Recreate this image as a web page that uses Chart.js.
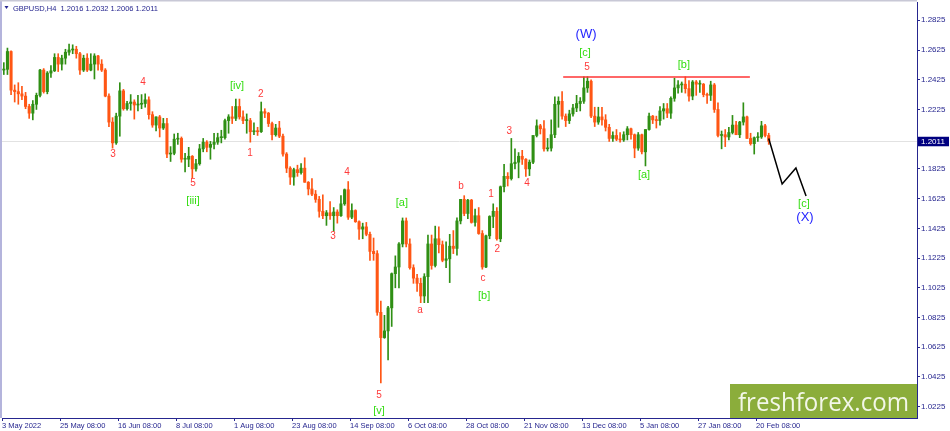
<!DOCTYPE html>
<html>
<head>
<meta charset="utf-8">
<title>GBPUSD,H4</title>
<script src="https://cdn.jsdelivr.net/npm/chart.js@4.4.1/dist/chart.umd.min.js"></script>
<style>
  html, body { margin: 0; padding: 0; background: #fff; }
  canvas { display: block; }
</style>
</head>
<body>
<canvas id="chart" width="950" height="431"></canvas>
<script>
// one candle per trading day, 3 May 2022 .. 23 Feb 2023
const opens = [
  1.2490,1.2495,1.2615,1.2355,1.2345,1.2330,1.2315,1.2245,1.2200,1.2260,
  1.2320,1.2490,1.2345,1.2470,1.2485,1.2575,1.2530,1.2570,1.2610,1.2625,
  1.2630,1.2600,1.2490,1.2570,1.2490,1.2530,1.2585,1.2530,1.2490,1.2315,
  1.2140,1.2000,1.2180,1.2350,1.2230,1.2265,1.2275,1.2255,1.2260,1.2265,
  1.2290,1.2190,1.2120,1.2175,1.2100,1.2130,1.1925,1.1930,1.2025,1.2030,
  1.1890,1.1890,1.1910,1.1825,1.1860,1.1960,1.2005,1.1970,1.1990,1.2005,
  1.2035,1.2035,1.2150,1.2175,1.2165,1.2245,1.2175,1.2150,1.2150,1.2075,
  1.2080,1.2075,1.2210,1.2200,1.2130,1.2055,1.2100,1.2045,1.1925,1.1830,
  1.1770,1.1820,1.1800,1.1830,1.1735,1.1690,1.1655,1.1620,1.1540,1.1510,
  1.1530,1.1510,1.1535,1.1510,1.1590,1.1685,1.1500,1.1545,1.1470,1.1420,
  1.1435,1.1385,1.1270,1.1255,1.0860,1.0690,1.0735,1.0890,1.1120,1.1165,
  1.1320,1.1475,1.1320,1.1160,1.1090,1.1055,1.0970,1.1100,1.1320,1.1175,
  1.1355,1.1315,1.1210,1.1220,1.1305,1.1290,1.1475,1.1620,1.1525,1.1615,
  1.1465,1.1510,1.1390,1.1165,1.1375,1.1505,1.1540,1.1355,1.1705,1.1775,
  1.1760,1.1860,1.1870,1.1910,1.1890,1.1825,1.1870,1.2050,1.2115,1.2095,
  1.1960,1.1965,1.2055,1.2260,1.2280,1.2180,1.2150,1.2195,1.2235,1.2265,
  1.2280,1.2370,1.2415,1.2180,1.2140,1.2175,1.2155,1.2105,1.2030,1.2050,
  1.2025,1.2020,1.2055,1.2095,1.2055,1.1965,1.2055,1.1940,1.2090,1.2180,
  1.2155,1.2150,1.2215,1.2230,1.2200,1.2300,1.2370,1.2390,1.2395,1.2365,
  1.2315,1.2410,1.2395,1.2395,1.2325,1.2320,1.2390,1.2225,1.2050,1.2055,
  1.2040,1.2070,1.2120,1.2055,1.2140,1.2175,1.2030,1.1995,1.2035,1.2040,
  1.2115,1.2050
];
const highs = [
  1.2540,1.2638,1.2620,1.2390,1.2405,1.2380,1.2340,1.2260,1.2285,1.2335,
  1.2495,1.2500,1.2480,1.2520,1.2600,1.2600,1.2590,1.2630,1.2665,1.2660,
  1.2650,1.2610,1.2590,1.2600,1.2600,1.2600,1.2590,1.2560,1.2500,1.2330,
  1.2170,1.2200,1.2405,1.2360,1.2280,1.2325,1.2290,1.2320,1.2325,1.2330,
  1.2310,1.2210,1.2175,1.2185,1.2165,1.2165,1.1975,1.2060,1.2065,1.2040,
  1.1930,1.1970,1.1915,1.1890,1.1990,1.2030,1.2015,1.2010,1.2065,1.2065,
  1.2085,1.2160,1.2190,1.2245,1.2295,1.2295,1.2215,1.2195,1.2165,1.2135,
  1.2105,1.2275,1.2230,1.2205,1.2140,1.2125,1.2145,1.2060,1.1935,1.1840,
  1.1830,1.1850,1.1860,1.1900,1.1740,1.1760,1.1680,1.1640,1.1650,1.1545,
  1.1605,1.1565,1.1550,1.1645,1.1690,1.1740,1.1590,1.1550,1.1475,1.1460,
  1.1465,1.1400,1.1360,1.1275,1.0935,1.0840,1.0900,1.1125,1.1240,1.1330,
  1.1495,1.1495,1.1355,1.1180,1.1115,1.1090,1.1120,1.1380,1.1380,1.1440,
  1.1435,1.1340,1.1335,1.1385,1.1410,1.1495,1.1620,1.1645,1.1620,1.1620,
  1.1555,1.1565,1.1410,1.1380,1.1510,1.1590,1.1565,1.1710,1.1855,1.1800,
  1.2030,1.1960,1.1935,1.1950,1.1895,1.1885,1.2050,1.2155,1.2125,1.2150,
  1.2030,1.2155,1.2310,1.2310,1.2345,1.2195,1.2220,1.2260,1.2320,1.2305,
  1.2445,1.2445,1.2425,1.2240,1.2240,1.2240,1.2190,1.2125,1.2075,1.2090,
  1.2070,1.2075,1.2110,1.2100,1.2060,1.2070,1.2060,1.2090,1.2200,1.2185,
  1.2180,1.2245,1.2265,1.2265,1.2310,1.2435,1.2420,1.2410,1.2445,1.2420,
  1.2420,1.2420,1.2420,1.2400,1.2335,1.2415,1.2400,1.2270,1.2080,1.2090,
  1.2105,1.2185,1.2145,1.2145,1.2270,1.2180,1.2065,1.2040,1.2070,1.2145,
  1.2125,1.2065
];
const lows = [
  1.2460,1.2460,1.2325,1.2275,1.2260,1.2290,1.2230,1.2165,1.2155,1.2225,
  1.2310,1.2335,1.2330,1.2440,1.2480,1.2480,1.2490,1.2530,1.2590,1.2600,
  1.2570,1.2460,1.2480,1.2480,1.2485,1.2430,1.2490,1.2480,1.2310,1.2110,
  1.1965,1.1990,1.2045,1.2220,1.2220,1.2220,1.2160,1.2215,1.2230,1.2240,
  1.2160,1.2105,1.2080,1.2040,1.2090,1.1900,1.1875,1.1920,1.1990,1.1870,
  1.1805,1.1840,1.1765,1.1810,1.1850,1.1940,1.1940,1.1890,1.1960,1.1990,
  1.2000,1.2025,1.2065,1.2130,1.2150,1.2160,1.2130,1.2065,1.2005,1.2055,
  1.2050,1.2070,1.2170,1.2110,1.2020,1.2045,1.2035,1.1910,1.1800,1.1720,
  1.1715,1.1775,1.1790,1.1735,1.1650,1.1645,1.1600,1.1500,1.1490,1.1445,
  1.1485,1.1405,1.1460,1.1505,1.1580,1.1485,1.1490,1.1465,1.1350,1.1355,
  1.1375,1.1210,1.1210,1.0840,1.0385,1.0685,1.0540,1.0765,1.1025,1.1025,
  1.1300,1.1300,1.1150,1.1055,1.1000,1.0925,1.0925,1.0925,1.1150,1.1165,
  1.1260,1.1200,1.1160,1.1060,1.1255,1.1245,1.1455,1.1510,1.1490,1.1460,
  1.1440,1.1385,1.1150,1.1160,1.1355,1.1430,1.1345,1.1335,1.1670,1.1710,
  1.1750,1.1825,1.1765,1.1855,1.1775,1.1780,1.1860,1.2040,1.2060,1.1945,
  1.1945,1.1945,1.2035,1.2105,1.2160,1.2110,1.2130,1.2180,1.2210,1.2215,
  1.2265,1.2340,1.2170,1.2110,1.2125,1.2120,1.2080,1.2010,1.2010,1.2015,
  1.2005,1.2010,1.2020,1.2025,1.1900,1.1950,1.1925,1.1845,1.2085,1.2130,
  1.2100,1.2120,1.2160,1.2170,1.2165,1.2280,1.2335,1.2340,1.2335,1.2280,
  1.2290,1.2320,1.2340,1.2310,1.2265,1.2285,1.2205,1.2040,1.1960,1.1975,
  1.2020,1.2060,1.2055,1.2035,1.2120,1.2030,1.1985,1.1925,1.2010,1.2030,
  1.2040,1.1990
];
const closes = [
  1.2495,1.2615,1.2355,1.2345,1.2330,1.2315,1.2245,1.2200,1.2260,1.2320,
  1.2490,1.2345,1.2470,1.2485,1.2575,1.2530,1.2570,1.2610,1.2625,1.2630,
  1.2600,1.2490,1.2570,1.2490,1.2530,1.2585,1.2530,1.2490,1.2315,1.2140,
  1.2000,1.2180,1.2350,1.2230,1.2265,1.2275,1.2255,1.2260,1.2265,1.2290,
  1.2190,1.2120,1.2175,1.2100,1.2130,1.1925,1.1930,1.2025,1.2030,1.1890,
  1.1890,1.1910,1.1825,1.1860,1.1960,1.2005,1.1970,1.1990,1.2005,1.2035,
  1.2035,1.2150,1.2175,1.2165,1.2245,1.2175,1.2150,1.2150,1.2075,1.2080,
  1.2075,1.2210,1.2200,1.2130,1.2055,1.2100,1.2045,1.1925,1.1830,1.1770,
  1.1820,1.1800,1.1830,1.1735,1.1690,1.1655,1.1620,1.1540,1.1510,1.1530,
  1.1510,1.1535,1.1510,1.1590,1.1685,1.1500,1.1545,1.1470,1.1420,1.1435,
  1.1385,1.1270,1.1255,1.0860,1.0690,1.0735,1.0890,1.1120,1.1165,1.1320,
  1.1475,1.1320,1.1160,1.1090,1.1055,1.0970,1.1100,1.1320,1.1175,1.1355,
  1.1315,1.1210,1.1220,1.1305,1.1290,1.1475,1.1620,1.1525,1.1615,1.1465,
  1.1510,1.1390,1.1165,1.1375,1.1505,1.1540,1.1355,1.1705,1.1775,1.1760,
  1.1860,1.1870,1.1910,1.1890,1.1825,1.1870,1.2050,1.2115,1.2095,1.1960,
  1.1965,1.2055,1.2260,1.2280,1.2180,1.2150,1.2195,1.2235,1.2265,1.2280,
  1.2370,1.2415,1.2180,1.2140,1.2175,1.2155,1.2105,1.2030,1.2050,1.2025,
  1.2020,1.2055,1.2095,1.2055,1.1965,1.2055,1.1940,1.2090,1.2180,1.2155,
  1.2150,1.2215,1.2230,1.2200,1.2300,1.2370,1.2390,1.2395,1.2365,1.2315,
  1.2410,1.2395,1.2395,1.2325,1.2320,1.2390,1.2225,1.2050,1.2055,1.2040,
  1.2070,1.2120,1.2055,1.2140,1.2175,1.2030,1.1995,1.2035,1.2040,1.2115,
  1.2050,1.2011
];

// x axis: trading days from the first bar, labels every 16 days
const tickDays = [0, 16, 32, 48, 64, 80, 96, 112, 128, 144, 160, 176, 192, 208];
const tickLabels = ['3 May 2022', '25 May 08:00', '16 Jun 08:00', '8 Jul 08:00', '1 Aug 08:00',
  '23 Aug 08:00', '14 Sep 08:00', '6 Oct 08:00', '28 Oct 08:00', '21 Nov 08:00',
  '13 Dec 08:00', '5 Jan 08:00', '27 Jan 08:00', '20 Feb 08:00'];
const yTicks = [1.0225, 1.0425, 1.0625, 1.0825, 1.1025, 1.1225, 1.1425,
  1.1625, 1.1825, 1.2225, 1.2425, 1.2625, 1.2825];
const dayMin = 0, dayMax = 252.4;
const priceMin = 1.0149, priceMax = 1.2948;
const lastPrice = 1.2011;

// resistance line and the projected path
const resistDays = [154.8, 206.3];
const resistPrices = [1.2443, 1.2443];
const projDays = [211.5, 215.2, 219.0, 221.8];
const projPrices = [1.2030, 1.1724, 1.1831, 1.1643];

// wave marks
const waveText = ['3', '4', '5', '[iii]', '[iv]', '1', '2', '3', '4', '5', '[v]',
  '[a]', 'a', 'b', 'c', '[b]', '1', '2', '3', '4', '5', '[c]', '(W)',
  '[a]', '[b]', '[c]', '(X)'];
const waveDay = [30.6, 38.9, 52.7, 52.7, 64.8, 68.4, 71.4, 91.3, 95.2, 104.0, 104.0,
  110.3, 115.3, 126.6, 132.7, 133.0, 134.9, 136.6, 139.9, 144.8, 161.4, 160.8, 161.1,
  177.1, 188.1, 221.2, 221.5];
const wavePrice = [1.1925, 1.2410, 1.1730, 1.1609, 1.2383, 1.1932, 1.2329, 1.1374, 1.1804, 1.0304, 1.0196,
  1.1596, 1.0876, 1.1710, 1.1091, 1.0970, 1.1656, 1.1286, 1.2080, 1.1730, 1.2511, 1.2605, 1.2733,
  1.1784, 1.2524, 1.1589, 1.1501];
const waveKind = ['r', 'r', 'r', 'g', 'g', 'r', 'r', 'r', 'r', 'r', 'g',
  'g', 'r', 'r', 'r', 'g', 'r', 'r', 'r', 'r', 'r', 'g', 'b',
  'g', 'g', 'g', 'b'];

const upColor = '#2f8f14';
const downColor = '#ff5614';
const axisColor = '#26268f';
const waveStyle = {
  r: { color: '#ff3a3a', font: '10px "Liberation Sans", Arial, sans-serif' },
  g: { color: '#33dd11', font: '11px "Liberation Sans", Arial, sans-serif' },
  b: { color: '#2424ff', font: '13px "Liberation Sans", Arial, sans-serif' }
};

const candleColors = closes.map((c, i) => c >= opens[i] ? upColor : downColor);

const mt4Plugin = {
  id: 'mt4',
  beforeDraw(chart) {
    const ctx = chart.ctx;
    ctx.save();
    ctx.fillStyle = '#ffffff';
    ctx.fillRect(0, 0, chart.width, chart.height);
    ctx.restore();
  },
  beforeDatasetsDraw(chart) {
    const ctx = chart.ctx, area = chart.chartArea;
    const py = Math.round(chart.scales.y.getPixelForValue(lastPrice)) + 0.5;
    ctx.save();
    ctx.strokeStyle = '#e2e2e2';
    ctx.lineWidth = 1;
    ctx.beginPath();
    ctx.moveTo(area.left, py);
    ctx.lineTo(area.right, py);
    ctx.stroke();
    ctx.restore();
  },
  afterDatasetsDraw(chart) {
    const ctx = chart.ctx, xs = chart.scales.x, ys = chart.scales.y;
    ctx.save();
    ctx.textAlign = 'center';
    ctx.textBaseline = 'middle';
    waveText.forEach((t, i) => {
      const st = waveStyle[waveKind[i]];
      ctx.font = st.font;
      ctx.fillStyle = st.color;
      ctx.fillText(t, xs.getPixelForValue(waveDay[i]), ys.getPixelForValue(wavePrice[i]));
    });
    ctx.restore();
  },
  afterDraw(chart) {
    const ctx = chart.ctx, area = chart.chartArea;
    ctx.save();
    // window frame
    ctx.fillStyle = '#b4b4dc';
    ctx.fillRect(0, 0, 2, area.bottom);
    ctx.fillStyle = '#c8c8d6';
    ctx.fillRect(0, 0, area.right, 1.5);

    // header
    ctx.fillStyle = axisColor;
    ctx.beginPath();
    ctx.moveTo(4.5, 6);
    ctx.lineTo(8.5, 6);
    ctx.lineTo(6.5, 9);
    ctx.closePath();
    ctx.fill();
    ctx.font = '7.5px "Liberation Sans", Arial, sans-serif';
    ctx.textAlign = 'left';
    ctx.textBaseline = 'middle';
    ctx.fillText('GBPUSD,H4  1.2016 1.2032 1.2006 1.2011', 13, 8.5);

    // last price tag
    const py = chart.scales.y.getPixelForValue(lastPrice);
    ctx.fillStyle = '#000080';
    ctx.fillRect(area.right + 1, py - 4.5, 31, 9.5);
    ctx.fillStyle = '#ffffff';
    ctx.font = '8px "Liberation Sans", Arial, sans-serif';
    ctx.fillText(lastPrice.toFixed(4), area.right + 4, py + 0.5);

    // watermark
    ctx.fillStyle = '#8bad3b';
    ctx.fillRect(730, 384, area.right - 730, area.bottom - 384);
    ctx.fillStyle = '#f3f7e8';
    ctx.font = '26px "Open Sans", sans-serif';
    ctx.textBaseline = 'alphabetic';
    ctx.fillText('freshforex.com', 738, 410.5, 171);
    ctx.restore();
  }
};

new Chart(document.getElementById('chart'), {
  type: 'bar',
  data: {
    datasets: [
      {
        type: 'line',
        data: projDays.map((d, i) => ({ x: d, y: projPrices[i] })),
        borderColor: '#000000',
        borderWidth: 1.5,
        pointRadius: 0,
        tension: 0,
        order: 0
      },
      {
        type: 'line',
        data: resistDays.map((d, i) => ({ x: d, y: resistPrices[i] })),
        borderColor: '#ff3535',
        borderWidth: 1.6,
        pointRadius: 0,
        order: 0
      },
      {
        data: opens.map((o, i) => ({ x: i + 0.5, y: [o, closes[i]] })),
        backgroundColor: candleColors,
        barThickness: 2.4,
        minBarLength: 1,
        grouped: false,
        order: 1
      },
      {
        data: lows.map((l, i) => ({ x: i + 0.5, y: [l, highs[i]] })),
        backgroundColor: candleColors,
        barThickness: 1,
        grouped: false,
        order: 2
      }
    ]
  },
  options: {
    responsive: false,
    animation: false,
    devicePixelRatio: 1,
    events: [],
    layout: { padding: { left: 2, top: 2, right: 0, bottom: 0 } },
    plugins: { legend: { display: false }, tooltip: { enabled: false } },
    scales: {
      x: {
        type: 'linear',
        min: dayMin,
        max: dayMax,
        offset: false,
        afterBuildTicks: s => { s.ticks = tickDays.map(v => ({ value: v })); },
        afterFit: s => { s.height = 13; s.paddingLeft = 0; s.paddingRight = 0; },
        grid: { drawOnChartArea: false, offset: false, tickLength: 3, color: axisColor },
        border: { color: axisColor, width: 1 },
        ticks: {
          autoSkip: false,
          maxRotation: 0,
          align: 'start',
          padding: 0,
          color: axisColor,
          font: { family: '"Liberation Sans", Arial, sans-serif', size: 7.5 },
          callback: (v, i) => tickLabels[i]
        }
      },
      y: {
        type: 'linear',
        position: 'right',
        min: priceMin,
        max: priceMax,
        afterBuildTicks: s => { s.ticks = yTicks.map(v => ({ value: v })); },
        afterFit: s => { s.width = 33; s.paddingTop = 0; s.paddingBottom = 0; },
        grid: { drawOnChartArea: false, tickLength: 3, color: axisColor },
        border: { color: axisColor, width: 1 },
        ticks: {
          padding: 1,
          color: axisColor,
          font: { family: '"Liberation Sans", Arial, sans-serif', size: 8 },
          callback: v => v.toFixed(4)
        }
      }
    }
  },
  plugins: [mt4Plugin]
});
</script>
</body>
</html>
